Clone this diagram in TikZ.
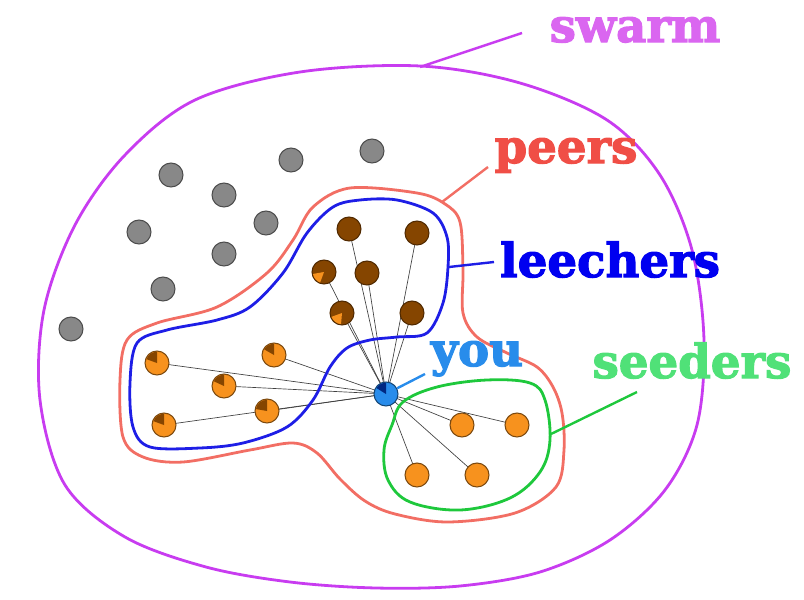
\documentclass[tikz,border=0pt]{standalone}
\usepackage{fontspec}
\usepackage{tikz}
\usetikzlibrary{backgrounds}
\newfontfamily\tagfont[BoldFeatures={FakeBold=2.5}]{DejaVu Serif}
\definecolor{idlegrey}{RGB}{136, 136, 136}
\definecolor{leechbrown}{RGB}{133, 69, 0}
\definecolor{peerorange}{RGB}{247, 146, 30}
\definecolor{youblue}{RGB}{40, 140, 235}
\definecolor{youdark}{RGB}{0, 40, 130}
\definecolor{swarmline}{RGB}{200, 60, 240}
\definecolor{swarmtext}{RGB}{218, 102, 240}
\definecolor{peersline}{RGB}{242, 110, 100}
\definecolor{peerstext}{RGB}{240, 78, 70}
\definecolor{leechline}{RGB}{30, 30, 230}
\definecolor{leechtext}{RGB}{0, 0, 240}
\definecolor{seedline}{RGB}{30, 200, 60}
\definecolor{seedtext}{RGB}{80, 225, 120}

\begin{document}
\begin{tikzpicture}[
    x=0.75pt, y=-0.75pt,
    peer/.style={circle, line width=0.8pt, minimum size=18pt, inner sep=0pt},
    idle/.style={peer, fill=idlegrey, draw=black!70},
    leech/.style={peer, fill=leechbrown, draw=leechbrown!60!black},
    seed/.style={peer, fill=peerorange, draw=peerorange!50!black},
    me/.style={peer, fill=youblue, draw=youblue!50!black},
    link/.style={draw=black!75, line width=0.5pt},
    blob/.style={line width=2.1pt},
    pointer/.style={line width=1.8pt},
    tag/.style={font=\tagfont\bfseries\fontsize{35}{40}\selectfont, inner sep=0pt, anchor=base}
]
    \useasboundingbox (0,0) rectangle (804,600);

    % the sets
    \draw[blob, swarmline] plot[smooth cycle, tension=0.55] coordinates {
        (420,66) (520,83) (607,120) (660,175) (692,250) (704,340) (697,425) (665,490)
        (610,540) (540,572) (460,586) (376,588) (290,582) (206,567) (125,537) (65,485)
        (40,400) (44,310) (75,225) (125,155) (195,100) (300,72)};
    \draw[blob, peersline] plot[smooth cycle, tension=0.55] coordinates {
        (350,188) (417,193) (445,204) (460,222) (463,270) (463,313) (477,337) (507,353)
        (537,367) (553,387) (562,413) (564,450) (556,487) (515,513) (448,522) (395,514)
        (365,501) (340,479) (317,453) (293,443) (250,450) (183,462) (143,457) (123,437)
        (120,380) (127,340) (157,323) (217,307) (267,273) (293,240) (313,207)};
    \draw[blob, leechline] plot[smooth cycle, tension=0.55] coordinates {
        (360,200) (397,200) (433,213) (447,237) (448,267) (443,303) (427,333) (397,337)
        (370,340) (347,348) (330,367) (313,400) (287,427) (243,443) (200,448) (150,447)
        (133,427) (130,383) (137,343) (167,330) (217,320) (250,307) (283,273) (307,233)
        (333,207)};
    \draw[blob, seedline] plot[smooth cycle, tension=0.6] coordinates {
        (403,402) (437,387) (487,380) (530,383) (545,400) (550,440) (540,472) (510,498)
        (460,510) (410,502) (388,480) (384,450) (392,425)};

    % peers not connected
    \foreach \n/\x/\y in {i1/171/175, i2/291/160, i3/372/151, i4/224/195, i5/139/232,
                          i6/266/223, i7/224/254, i8/163/289, i9/71/329}
        \node[idle] (\n) at (\x,\y) {};

    % you
    \node[me] (you) at (386,394) {};
    \fill[youdark] (you.center) -- ++(90:8.4pt) arc[start angle=90, end angle=148, radius=8.4pt] -- cycle;

    % leechers, nearly done
    \foreach \n/\x/\y/\a/\b in {b1/349/229/0/0, b2/417/233/0/0, b3/324/272/190/250,
                                b4/367/273/0/0, b5/342/313/200/265, b6/412/313/0/0} {
        \node[leech] (\n) at (\x,\y) {};
        \ifnum\a>0 \fill[peerorange] (\n.center) -- ++(\a:8.4pt) arc[start angle=\a, end angle=\b, radius=8.4pt] -- cycle; \fi
        \begin{scope}[on background layer]
            \draw[link] (you.center) -- (\n.center);
        \end{scope}
    }

    % leechers, just started
    \foreach \n/\x/\y/\b in {o1/157/363/160, o2/224/386/155, o3/274/355/150,
                             o4/267/411/170, o5/164/425/160} {
        \node[seed] (\n) at (\x,\y) {};
        \fill[leechbrown] (\n.center) -- ++(90:8.4pt) arc[start angle=90, end angle=\b, radius=8.4pt] -- cycle;
        \begin{scope}[on background layer]
            \draw[link] (you.center) -- (\n.center);
        \end{scope}
    }

    % seeders
    \foreach \n/\x/\y in {s1/462/425, s2/517/425, s3/417/475, s4/477/475} {
        \node[seed] (\n) at (\x,\y) {};
        \begin{scope}[on background layer]
            \draw[link] (you.center) -- (\n.center);
        \end{scope}
    }

    % labels
    \node[tag, text=swarmtext] (swarmlbl) at (635,42) {swarm};
    \node[tag, text=peerstext] (peerslbl) at (566,163) {peers};
    \node[tag, text=leechtext] (leechlbl) at (610,277) {leechers};
    \node[tag, text=youblue] (youlbl) at (477,366) {you};
    \node[tag, text=seedtext] (seedlbl) at (692,378) {seeders};

    \coordinate (swarmtip) at (420,67);
    \coordinate (swarmend) at (522,33);
    \coordinate (peerstip) at (442,202);
    \coordinate (peersend) at (488,167);
    \coordinate (leechtip) at (449,267);
    \coordinate (leechend) at (494,262);
    \coordinate (youend) at (425,374);
    \coordinate (seedtip) at (551,434);
    \coordinate (seedend) at (637,392);

    \draw[pointer, swarmline] (swarmtip) -- (swarmend);
    \draw[pointer, peersline] (peerstip) -- (peersend);
    \draw[pointer, leechline] (leechtip) -- (leechend);
    \draw[pointer, youblue] (you) -- (youend);
    \draw[pointer, seedline] (seedtip) -- (seedend);
\end{tikzpicture}
\end{document}
